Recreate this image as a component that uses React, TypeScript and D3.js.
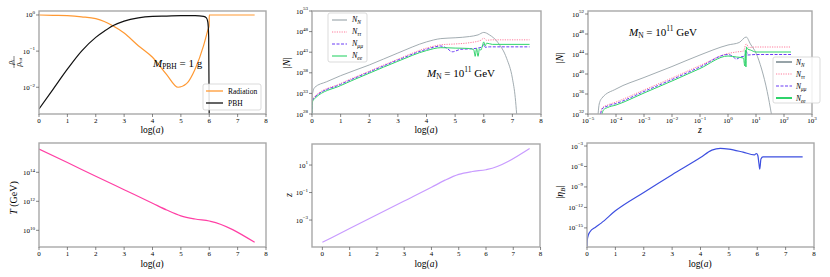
import React from "react";
import * as d3 from "d3";

const FONT = "'Liberation Serif', 'DejaVu Serif', serif";

// ---- top left: energy fractions vs log(a)   (y values are log10)
const radLogA = [0, 0.5, 1, 1.5, 2, 2.3, 2.6, 3, 3.5, 4, 4.5, 4.9, 5.2, 5.5, 5.8, 5.95, 5.995, 6.0, 7.6];
const radFrac = [0, -0.01, -0.02, -0.05, -0.1, -0.18, -0.3, -0.5, -0.85, -1.17, -1.65, -2.0, -1.9, -1.5, -0.85, -0.42, -0.3, 0, 0];
const pbhLogA = [0, 0.5, 1, 1.5, 2, 2.3, 2.6, 3, 3.5, 4, 4.5, 5, 5.5, 5.8, 5.9, 5.95, 5.98, 6.0];
const pbhFrac = [-2.6, -2.05, -1.5, -1.0, -0.62, -0.45, -0.3, -0.17, -0.08, -0.04, -0.03, -0.02, -0.02, -0.04, -0.08, -0.2, -0.6, -3.0];

// ---- top middle: |N| vs log(a)
const nnLogA = [0, 0.02, 0.1, 0.5, 1, 2, 3, 4, 4.5, 5, 5.5, 5.8, 6.0, 6.2, 6.5, 6.8, 7.0, 7.1, 7.15];
const nnVal = [28, 33, 34.5, 35.8, 37.3, 39.9, 42.8, 45.5, 46.3, 46.5, 46.8, 47.2, 47.8, 47.2, 45.3, 41.5, 36.7, 32, 28];
const nttLogA = [0, 0.02, 0.1, 1, 2, 3, 4, 4.5, 5, 5.5, 5.9, 6.0, 6.1, 6.3, 7.6];
const nttVal = [28, 31.5, 32.3, 35.4, 38.4, 41.3, 44, 44.8, 45.0, 45.3, 45.9, 46.4, 45.9, 46.0, 46.0];
const nmmLogA = [0, 0.02, 0.1, 1, 2, 3, 4, 4.5, 4.7, 4.9, 5.2, 5.5, 5.8, 5.95, 6.0, 6.05, 6.2, 7.6];
const nmmVal = [28, 31.3, 32.1, 35.2, 38.2, 41.1, 43.7, 44.5, 44.0, 43.1, 43.7, 43.8, 44.0, 44.3, 44.9, 44.2, 44.3, 44.3];
const neeLogA = [0, 0.02, 0.1, 1, 2, 3, 4, 4.5, 5, 5.5, 5.65, 5.7, 5.75, 5.8, 5.85, 5.9, 5.95, 6.0, 6.05, 6.1, 6.3, 7.6];
const neeVal = [28, 31.0, 31.8, 34.9, 37.9, 40.8, 43.4, 44.1, 44.0, 43.9, 43.6, 42.0, 43.9, 42.0, 43.8, 43.5, 44.5, 45.5, 44.5, 45.2, 44.9, 44.9];

// ---- top right: |N| vs log10(z)
const nnLogZ = [-4.64, -4.6, -4.5, -4, -3, -2, -1, 0, 0.4, 0.65, 0.8, 1.0, 1.2, 1.4, 1.55];
const nnValZ = [32, 34, 35.2, 37, 39.3, 41.5, 43.8, 45.8, 46.3, 47.4, 46, 44.2, 41, 36.5, 32];
const nttLogZ = [-4.55, -4.5, -4.3, -4, -3, -2, -1, 0, 0.3, 0.55, 0.65, 0.75, 1.0, 2.25];
const nttValZ = [32, 33.2, 33.8, 34.4, 36.8, 39.2, 41.7, 44.1, 44.4, 44.6, 46, 45.3, 45.4, 45.4];
const nmmLogZ = [-4.55, -4.5, -4.3, -4, -3, -2, -1, 0, 0.15, 0.3, 0.45, 0.6, 0.65, 0.7, 1.0, 2.25];
const nmmValZ = [32, 33.0, 33.6, 34.1, 36.5, 38.9, 41.4, 43.9, 43.6, 43.0, 43.4, 43.6, 44.6, 43.8, 43.9, 43.9];
const neeLogZ = [-4.5, -4.45, -4.3, -4, -3, -2, -1, 0, 0.3, 0.55, 0.6, 0.62, 0.64, 0.66, 0.7, 0.8, 1.0, 2.25];
const neeValZ = [32, 32.8, 33.3, 33.8, 36.2, 38.6, 41.1, 43.6, 43.4, 43.2, 41.6, 44.8, 41.4, 45.4, 45.0, 44.8, 44.4, 44.4];

// ---- bottom row vs log(a)
const tLogA = [0, 1, 2, 3, 4, 4.5, 5, 5.5, 6.0, 6.05, 7.6];
const tVal = [15.6, 14.67, 13.73, 12.8, 11.87, 11.4, 11.0, 10.78, 10.64, 10.62, 9.17];
const zLogA = [0, 1, 2, 3, 4, 4.5, 5, 5.5, 6.0, 6.05, 7.6];
const zVal = [-4.62, -3.62, -2.62, -1.62, -0.62, -0.1, 0.32, 0.53, 0.66, 0.68, 2.21];
const etaLogA = [0, 0.01, 0.05, 0.1, 0.3, 0.5, 1, 2, 3, 4, 4.4, 4.7, 5, 5.5, 5.9, 5.97, 6.02, 6.06, 6.09, 6.13, 6.2, 6.5, 7.6];
const etaVal = [-17.8, -16.8, -16.0, -15.6, -14.9, -14.3, -12.5, -9.8, -7.2, -4.7, -3.6, -3.34, -3.45, -3.9, -4.3, -4.1, -4.4, -5.6, -6.4, -4.9, -4.6, -4.6, -4.6];

const logATicks = [0, 1, 2, 3, 4, 5, 6, 7, 8];
const zTicks = [-5, -4, -3, -2, -1, 0, 1, 2, 3];

type Line = { xs: number[]; ys: number[]; color: string; width: number; dash?: string };
type Box = { l: number; t: number; r: number; b: number };

const pow = (e: number) => (e < 0 ? "\u2212" + -e : String(e));

function Panel(props: {
  id: string;
  box: Box;
  xDomain: [number, number];
  xLog?: boolean;
  xTicks: number[];
  yDomain: [number, number];
  yTicks: number[];
  lines: Line[];
  children?: React.ReactNode;
}) {
  const { id, box, xDomain, xLog, xTicks, yDomain, yTicks, lines } = props;
  const xs = xLog
    ? d3.scaleLog().domain([10 ** xDomain[0], 10 ** xDomain[1]]).range([box.l, box.r])
    : d3.scaleLinear().domain(xDomain).range([box.l, box.r]);
  const ys = d3.scaleLog().domain([10 ** yDomain[0], 10 ** yDomain[1]]).range([box.b, box.t]);
  const xv = (v: number) => (xLog ? xs(10 ** v) : xs(v));
  const line = d3
    .line<[number, number]>()
    .x((d) => xv(d[0]))
    .y((d) => ys(10 ** d[1]))
    .curve(d3.curveMonotoneX);
  return (
    <g>
      <defs>
        <clipPath id={id}>
          <rect x={box.l} y={box.t} width={box.r - box.l} height={box.b - box.t} />
        </clipPath>
      </defs>
      <g clipPath={`url(#${id})`}>
        {lines.map((s, i) => (
          <path
            key={i}
            d={line(s.xs.map((x, j) => [x, s.ys[j]] as [number, number])) || ""}
            fill="none"
            stroke={s.color}
            strokeWidth={s.width}
            strokeDasharray={s.dash}
          />
        ))}
      </g>
      <rect x={box.l} y={box.t} width={box.r - box.l} height={box.b - box.t} fill="none" stroke="#a8a8a8" strokeWidth={1.4} />
      {xTicks.map((t) => (
        <g key={"x" + t}>
          <line x1={xv(t)} x2={xv(t)} y1={box.b} y2={box.b + 3} stroke="#555" strokeWidth={0.7} />
          {xLog ? (
            <text x={xv(t)} y={box.b + 9} textAnchor="middle" fontSize={7}>
              10<tspan dy={-3.2} fontSize={5}>{pow(t)}</tspan>
            </text>
          ) : (
            <text x={xv(t)} y={box.b + 9} textAnchor="middle" fontSize={7}>
              {t}
            </text>
          )}
        </g>
      ))}
      {yTicks.map((t) => (
        <g key={"y" + t}>
          <line x1={box.l - 3} x2={box.l} y1={ys(10 ** t)} y2={ys(10 ** t)} stroke="#555" strokeWidth={0.7} />
          <text x={box.l - 4} y={ys(10 ** t) + 2.5} textAnchor="end" fontSize={7}>
            10<tspan dy={-3.2} fontSize={5}>{pow(t)}</tspan>
          </text>
        </g>
      ))}
      {props.children}
    </g>
  );
}

function LogALabel({ x, y }: { x: number; y: number }) {
  return (
    <text x={x} y={y} textAnchor="middle" fontSize={9.5}>
      log(<tspan fontStyle="italic">a</tspan>)
    </text>
  );
}

function NLabel({ x, y, sub, size }: { x: number; y: number; sub: string; size: number }) {
  return (
    <text x={x} y={y} fontSize={size} fontStyle="italic">
      N<tspan dy={2} fontSize={size * 0.7}>{sub}</tspan>
    </text>
  );
}

const C_NN = "#97a3a8";
const C_TT = "#ff7c9c";
const C_MM = "#6b3cf5";
const C_EE = "#2fd36b";

export default function App() {
  const p1: Box = { l: 39, t: 11, r: 266, b: 114 };
  const p2: Box = { l: 312, t: 11, r: 541, b: 114 };
  const p3: Box = { l: 588, t: 11, r: 812, b: 114 };
  const p4: Box = { l: 39, t: 143, r: 266, b: 247 };
  const p5: Box = { l: 312, t: 144, r: 540, b: 247 };
  const p6: Box = { l: 587, t: 143, r: 814, b: 247 };

  const nLegend = [
    { sub: "N", color: C_NN, dash: undefined as string | undefined },
    { sub: "\u03c4\u03c4", color: C_TT, dash: "1.2 1.2" },
    { sub: "\u03bc\u03bc", color: C_MM, dash: "3 1.5" },
    { sub: "ee", color: C_EE, dash: undefined as string | undefined },
  ];

  return (
    <svg width={830} height={277} style={{ display: "block", position: "absolute", left: 0, top: 0, background: "#fff" }} fontFamily={FONT}>
      {/* Panel 1 */}
      <Panel
        id="c1"
        box={p1}
        xDomain={[0, 8]}
        xTicks={logATicks}
        yDomain={[-2.74, 0.11]}
        yTicks={[0, -1, -2]}
        lines={[
          { xs: radLogA, ys: radFrac, color: "#ff9933", width: 1.2 },
          { xs: pbhLogA, ys: pbhFrac, color: "#111", width: 1.2 },
        ]}
      >
        <text x={153} y={67} fontSize={11}>
          <tspan fontStyle="italic">M</tspan>
          <tspan dy={2} fontSize={7.5}>PBH</tspan>
          <tspan dy={-2}> = 1 g</tspan>
        </text>
        <rect x={203} y={84} width={58} height={26} rx={2} fill="#fff" fillOpacity={0.85} stroke="#ccc" strokeWidth={0.7} />
        <line x1={206} x2={223} y1={91} y2={91} stroke="#ff9933" strokeWidth={1.3} />
        <text x={228} y={94} fontSize={7.5}>Radiation</text>
        <line x1={206} x2={223} y1={103} y2={103} stroke="#111" strokeWidth={1.3} />
        <text x={228} y={106} fontSize={7.5}>PBH</text>
      </Panel>
      <LogALabel x={152} y={133} />
      <g transform="translate(14,62) rotate(-90)" fontSize={7.5}>
        <text x={0} y={-1.5} textAnchor="middle" fontStyle="italic">
          ρ<tspan dy={1.5} fontSize={5}>i</tspan>
        </text>
        <line x1={-6} x2={6} y1={0} y2={0} stroke="#000" strokeWidth={0.5} />
        <text x={0} y={6.5} textAnchor="middle" fontStyle="italic">
          ρ<tspan dy={1.5} fontSize={5} fontStyle="normal">tot</tspan>
        </text>
      </g>

      {/* Panel 2 */}
      <Panel
        id="c2"
        box={p2}
        xDomain={[0, 8]}
        xTicks={logATicks}
        yDomain={[28, 53]}
        yTicks={[28, 33, 38, 43, 48, 53]}
        lines={[
          { xs: nnLogA, ys: nnVal, color: C_NN, width: 0.9 },
          { xs: nttLogA, ys: nttVal, color: C_TT, width: 1, dash: "1.2 1.2" },
          { xs: nmmLogA, ys: nmmVal, color: C_MM, width: 1, dash: "3 1.5" },
          { xs: neeLogA, ys: neeVal, color: C_EE, width: 1 },
        ]}
      >
        <text x={427} y={77} fontSize={11}>
          <tspan fontStyle="italic">M</tspan>
          <tspan dy={2} fontSize={7.5}>N</tspan>
          <tspan dy={-2}> = 10</tspan>
          <tspan dy={-5} fontSize={7.5}>11</tspan>
          <tspan dy={5}> GeV</tspan>
        </text>
        <rect x={328} y={13} width={39} height={49} rx={2} fill="#fff" fillOpacity={0.85} stroke="#ccc" strokeWidth={0.7} />
        {nLegend.map((e, i) => (
          <g key={i}>
            <line x1={332} x2={347} y1={20 + i * 12} y2={20 + i * 12} stroke={e.color} strokeWidth={1.1} strokeDasharray={e.dash} />
            <NLabel x={352} y={22 + i * 12} sub={e.sub} size={8} />
          </g>
        ))}
      </Panel>
      <LogALabel x={426} y={133} />
      <text transform="translate(290,63) rotate(-90)" textAnchor="middle" fontSize={10}>
        |<tspan fontStyle="italic">N</tspan>|
      </text>

      {/* Panel 3 */}
      <Panel
        id="c3"
        box={p3}
        xDomain={[-5, 3]}
        xLog
        xTicks={zTicks}
        yDomain={[32, 52.6]}
        yTicks={[32, 36, 40, 44, 48, 52]}
        lines={[
          { xs: nnLogZ, ys: nnValZ, color: C_NN, width: 0.9 },
          { xs: nttLogZ, ys: nttValZ, color: C_TT, width: 1, dash: "1.2 1.2" },
          { xs: nmmLogZ, ys: nmmValZ, color: C_MM, width: 1, dash: "3 1.5" },
          { xs: neeLogZ, ys: neeValZ, color: C_EE, width: 1 },
        ]}
      >
        <text x={629} y={36} fontSize={11}>
          <tspan fontStyle="italic">M</tspan>
          <tspan dy={2} fontSize={7.5}>N</tspan>
          <tspan dy={-2}> = 10</tspan>
          <tspan dy={-5} fontSize={7.5}>11</tspan>
          <tspan dy={5}> GeV</tspan>
        </text>
      </Panel>
      <rect x={773} y={57} width={47} height={46} rx={2} fill="#fff" fillOpacity={0.85} stroke="#ccc" strokeWidth={0.7} />
      {nLegend.map((e, i) => (
        <g key={i}>
          <line x1={776} x2={792} y1={62 + i * 12} y2={62 + i * 12} stroke={e.color} strokeWidth={e.dash ? 1.1 : 2} strokeDasharray={e.dash} />
          <NLabel x={796} y={64.5 + i * 12} sub={e.sub} size={7.5} />
        </g>
      ))}
      <text x={700} y={133} textAnchor="middle" fontSize={10} fontStyle="italic">z</text>
      <text transform="translate(563,58) rotate(-90)" textAnchor="middle" fontSize={10}>
        |<tspan fontStyle="italic">N</tspan>|
      </text>

      {/* Panel 4 */}
      <Panel
        id="c4"
        box={p4}
        xDomain={[0, 8]}
        xTicks={logATicks}
        yDomain={[8.85, 16.02]}
        yTicks={[10, 12, 14]}
        lines={[{ xs: tLogA, ys: tVal, color: "#ff3fa4", width: 1.2 }]}
      />
      <LogALabel x={152} y={267} />
      <text transform="translate(17,198) rotate(-90)" textAnchor="middle" fontSize={10}>
        <tspan fontStyle="italic">T</tspan> (GeV)
      </text>

      {/* Panel 5 */}
      <Panel
        id="c5"
        box={p5}
        xDomain={[-0.38, 7.98]}
        xTicks={logATicks}
        yDomain={[-4.96, 2.53]}
        yTicks={[-3, -1, 1]}
        lines={[{ xs: zLogA, ys: zVal, color: "#c89bff", width: 1.2 }]}
      />
      <LogALabel x={426} y={267} />
      <text transform="translate(292,195) rotate(-90)" textAnchor="middle" fontSize={10} fontStyle="italic">z</text>

      {/* Panel 6 */}
      <Panel
        id="c6"
        box={p6}
        xDomain={[0, 8]}
        xTicks={logATicks}
        yDomain={[-17.8, -2.56]}
        yTicks={[-15, -12, -9, -6, -3]}
        lines={[{ xs: etaLogA, ys: etaVal, color: "#3d4fe0", width: 1.2 }]}
      />
      <LogALabel x={700} y={267} />
      <text transform="translate(563,192) rotate(-90)" textAnchor="middle" fontSize={10}>
        |<tspan fontStyle="italic">η</tspan>
        <tspan dy={2} fontSize={7} fontStyle="italic">B</tspan>
        <tspan dy={-2}>|</tspan>
      </text>
    </svg>
  );
}
